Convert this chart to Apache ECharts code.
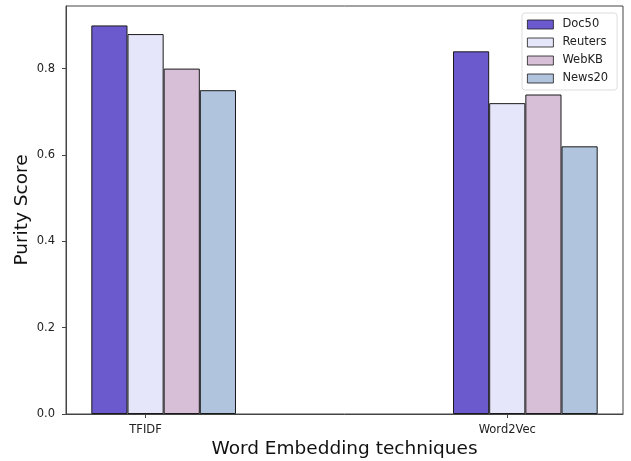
<!DOCTYPE html>
<html>
<head>
<meta charset="utf-8">
<script src="https://cdn.jsdelivr.net/npm/echarts@6/dist/echarts.min.js"></script>
<style>
  html, body { margin: 0; padding: 0; background: #fff; }
  #chart { width: 631px; height: 461px; }
</style>
</head>
<body>
<div id="chart"></div>
<script>
var techniques = ['TFIDF', 'Word2Vec'];
var datasets = ['Doc50', 'Reuters', 'WebKB', 'News20'];
var doc50 = [0.90, 0.84];
var reuters = [0.88, 0.72];
var webkb = [0.80, 0.74];
var news20 = [0.75, 0.62];
var yTicks = [0, 0.2, 0.4, 0.6, 0.8];

var colors = ['#6a5acd', '#e6e6fa', '#d8bfd8', '#b0c4de'];
var values = [doc50, reuters, webkb, news20];
var groupStep = 10; // group spacing, in bar widths

var chart = echarts.init(document.getElementById('chart'));

var series = datasets.map(function (name, j) {
    return {
        name: name,
        type: 'bar',
        barWidth: '100%',
        barGap: '-100%',
        itemStyle: { color: colors[j], borderColor: '#1a1a1a', borderWidth: 1 },
        emphasis: { disabled: true },
        data: values[j].map(function (v, i) { return [i * groupStep + j, v]; })
    };
});

var tickPos = techniques.map(function (t, i) { return i * groupStep + 1; });

option = {
    animation: false,
    textStyle: { fontFamily: 'DejaVu Sans' },
    grid: {
        left: 66, right: 8, top: 6, bottom: 47,
        outerBoundsMode: 'none',
        containLabel: false,
        show: true, borderColor: '#444', borderWidth: 1
    },
    legend: {
        orient: 'vertical',
        left: 522, top: 13,
        padding: [5, 9, 5, 5],
        itemWidth: 26, itemHeight: 9, itemGap: 5,
        icon: 'rect',
        itemStyle: { borderWidth: 0.8 },
        borderColor: '#ddd', borderWidth: 1, borderRadius: 3,
        backgroundColor: 'rgba(255,255,255,0.8)',
        textStyle: { fontSize: 11.5, color: '#222', lineHeight: 13, padding: [0, 0, 0, 4] },
        data: datasets
    },
    xAxis: {
        type: 'value',
        min: -1.2, max: 14.2,
        name: 'Word Embedding techniques',
        nameLocation: 'middle', nameGap: 26,
        nameMoveOverlap: false,
        nameTextStyle: { fontSize: 18.5, color: '#111' },
        axisLine: { show: true, onZero: false, lineStyle: { color: '#444' } },
        axisTick: { show: true, length: 4, customValues: tickPos, lineStyle: { color: '#444' } },
        axisLabel: {
            customValues: tickPos, fontSize: 11.5, color: '#222', margin: 10,
            formatter: function (v) { return techniques[Math.round((v - 1) / groupStep)]; }
        },
        splitLine: { show: false }
    },
    yAxis: {
        type: 'value',
        min: 0, max: 0.945,
        name: 'Purity Score',
        nameLocation: 'middle', nameGap: 34,
        nameMoveOverlap: false,
        nameTextStyle: { fontSize: 18.5, color: '#111' },
        axisLine: { show: true, onZero: false, lineStyle: { color: '#444' } },
        axisTick: { show: true, length: 4, customValues: yTicks, lineStyle: { color: '#444' } },
        axisLabel: {
            customValues: yTicks, fontSize: 11.5, color: '#222', margin: 11,
            formatter: function (v) { return v.toFixed(1); }
        },
        splitLine: { show: false }
    },
    series: series
};

chart.setOption(option);
</script>
</body>
</html>
